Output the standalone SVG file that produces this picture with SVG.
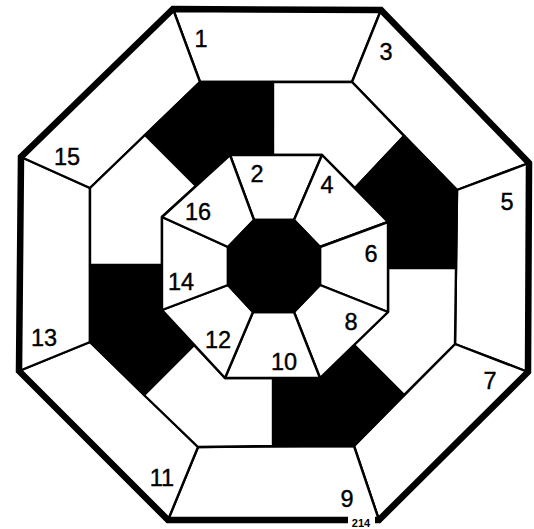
<svg xmlns="http://www.w3.org/2000/svg" width="534" height="529" viewBox="0 0 534 529">
<style>
.p{stroke:#000;stroke-width:2.4;stroke-linejoin:round}
.w{fill:#fff}
.b{fill:#000}
.t{font-family:"Liberation Sans",Arial,sans-serif;font-size:23.5px;fill:#000;stroke:#000;stroke-width:0.4;text-anchor:middle}
</style>
<rect width="534" height="529" fill="#fff"/>
<g id="outer-ring">
<g id="n1"><polygon class="p w" points="173,9 381,10 352,82 200,82"/><text class="t" x="201" y="47">1</text></g>
<g id="n3"><polygon class="p w" points="381,10 529,163 457,190 352,82"/><text class="t" x="386" y="60">3</text></g>
<g id="n5"><polygon class="p w" points="529,163 528,372 455,344 457,190"/><text class="t" x="507" y="210">5</text></g>
<g id="n7"><polygon class="p w" points="528,372 379,520 354,446 455,344"/><text class="t" x="490" y="389">7</text></g>
<g id="n9"><polygon class="p w" points="379,520 168,520 198,447 354,446"/><text class="t" x="347" y="507">9</text></g>
<g id="n11"><polygon class="p w" points="168,520 19,371 90,342 198,447"/><text class="t" x="162" y="486">11</text></g>
<g id="n13"><polygon class="p w" points="19,371 21,157 90,188 90,342"/><text class="t" x="44" y="346">13</text></g>
<g id="n15"><polygon class="p w" points="21,157 173,9 200,82 90,188"/><text class="t" x="67" y="165">15</text></g>
</g>
<g id="middle-ring">
<g id="m-tl"><polygon class="p b" points="145,135 200,82 273,82 273,155 230,155 196,186"/></g>
<g id="m-tr"><polygon class="p w" points="273,82 352,82 404,136 355,188 322,155 273,155"/></g>
<g id="m-ru"><polygon class="p b" points="404,136 457,190 456,268 388,268 388,222 355,188"/></g>
<g id="m-rl"><polygon class="p w" points="456,268 455,344 404,395 354,345 388,312 388,268"/></g>
<g id="m-br"><polygon class="p b" points="404,395 354,446 273,446 273,378 320,378 354,345"/></g>
<g id="m-bl"><polygon class="p w" points="273,446 198,447 144,395 194,345 225,378 273,378"/></g>
<g id="m-ll"><polygon class="p b" points="144,395 90,342 90,265 162,265 162,310 194,345"/></g>
<g id="m-lu"><polygon class="p w" points="90,265 90,188 145,135 196,186 162,217 162,265"/></g>
</g>
<g id="inner-ring">
<g id="n2"><polygon class="p w" points="230,155 322,155 294,220 254,220"/><text class="t" x="257" y="182">2</text></g>
<g id="n4"><polygon class="p w" points="322,155 388,222 320,247 294,220"/><text class="t" x="327" y="193">4</text></g>
<g id="n6"><polygon class="p w" points="388,222 388,312 320,285 320,247"/><text class="t" x="371" y="262">6</text></g>
<g id="n8"><polygon class="p w" points="388,312 320,378 294,312 320,285"/><text class="t" x="351" y="330">8</text></g>
<g id="n10"><polygon class="p w" points="320,378 225,378 253,312 294,312"/><text class="t" x="284" y="370">10</text></g>
<g id="n12"><polygon class="p w" points="225,378 162,310 228,285 253,312"/><text class="t" x="218" y="348">12</text></g>
<g id="n14"><polygon class="p w" points="162,310 162,217 228,247 228,285"/><text class="t" x="181" y="290">14</text></g>
<g id="n16"><polygon class="p w" points="162,217 230,155 254,220 228,247"/><text class="t" x="198" y="220">16</text></g>
</g>
<g id="center"><polygon class="p b" points="254,220 294,220 320,247 320,285 294,312 253,312 228,285 228,247"/></g>
<g id="border"><polygon points="173,9 381,10 529,163 528,372 379,520 168,520 19,371 21,157" fill="none" stroke="#000" stroke-width="6.5" stroke-linejoin="miter"/></g>
<g id="page-number">
<rect x="348" y="516" width="27" height="13" fill="#fff"/>
<text x="361" y="527" font-family="'Liberation Sans',Arial,sans-serif" font-size="11" font-weight="bold" text-anchor="middle" fill="#000">214</text>
</g>
</svg>
